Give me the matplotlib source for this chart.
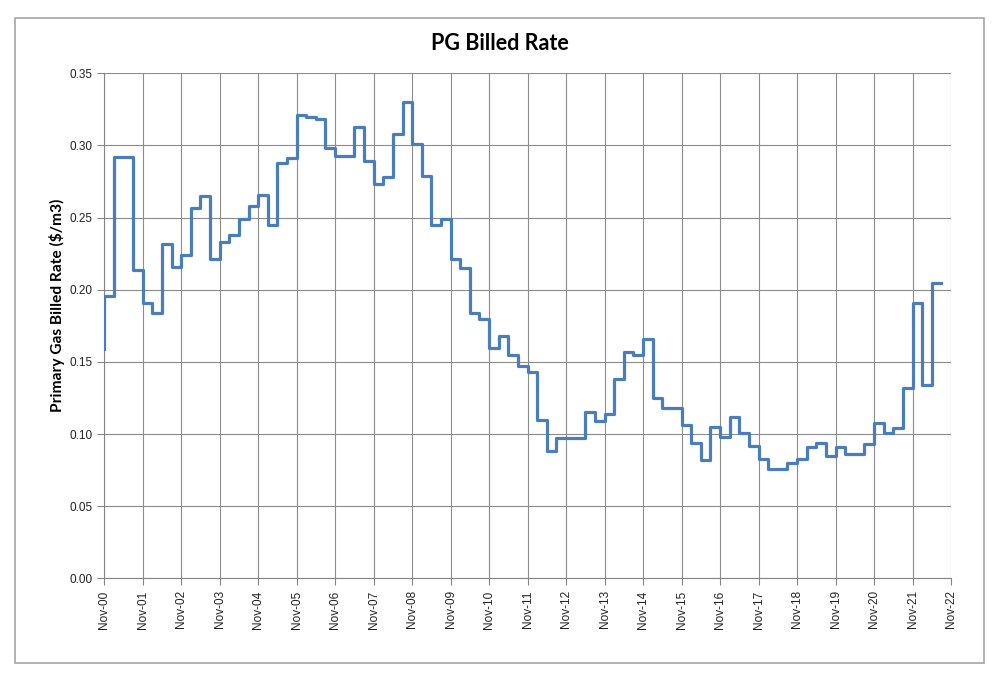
# PG billed rate - quarterly primary gas rate, drawn as a step line
import numpy as np
import pandas as pd
import matplotlib
matplotlib.use("Agg")
import matplotlib.pyplot as plt
import matplotlib.dates as mdates
from matplotlib.patches import Rectangle

# quarterly rate changes, starting Nov-2000
start_rate = 0.159
rates = [
    0.196, 0.292, 0.292, 0.214,  # Nov-00 .. Aug-01
    0.191, 0.184, 0.232, 0.216,
    0.224, 0.257, 0.265, 0.221,
    0.233, 0.238, 0.249, 0.258,
    0.266, 0.245, 0.288, 0.291,
    0.321, 0.320, 0.318, 0.298,
    0.293, 0.293, 0.313, 0.289,
    0.273, 0.278, 0.308, 0.330,
    0.301, 0.279, 0.245, 0.249,
    0.221, 0.215, 0.184, 0.180,
    0.160, 0.168, 0.155, 0.147,
    0.143, 0.110, 0.088, 0.097,
    0.097, 0.097, 0.115, 0.109,
    0.114, 0.138, 0.157, 0.155,
    0.166, 0.125, 0.118, 0.118,
    0.106, 0.094, 0.082, 0.105,
    0.098, 0.112, 0.101, 0.092,
    0.083, 0.076, 0.076, 0.080,
    0.083, 0.091, 0.094, 0.085,
    0.091, 0.086, 0.086, 0.093,
    0.108, 0.101, 0.104, 0.132,
    0.191, 0.134, 0.205,  # Nov-21 .. May-22
]
dates = pd.date_range("2000-11-01", periods=len(rates) + 1, freq="3MS")

# step line: initial rate, then each quarter, held to the end date
x = [dates[0]] + list(dates)
y = [start_rate] + rates + [rates[-1]]

fig = plt.figure(figsize=(10, 6.85), dpi=100)
ax = fig.add_axes([0.1043, 0.1555, 0.8467, 0.7375])

ax.step(x, y, where="post", color="#4A7EBB", linewidth=2.3, zorder=3)

ax.set_xlim(pd.Timestamp("2000-11-01"), pd.Timestamp("2022-11-01"))
ax.set_ylim(0, 0.35)
ax.set_yticks(np.arange(0, 0.351, 0.05))
ax.yaxis.set_major_formatter(matplotlib.ticker.FormatStrFormatter("%.2f"))
ax.xaxis.set_major_locator(mdates.MonthLocator(bymonth=11))
ax.xaxis.set_major_formatter(mdates.DateFormatter("%b-%y"))

ax.grid(True, color="#8C8C8C", linewidth=0.8)
ax.set_axisbelow(True)
for side in ["top", "right"]:
    ax.spines[side].set_visible(False)
for side in ["left", "bottom"]:
    ax.spines[side].set_color("#868686")
    ax.spines[side].set_linewidth(0.8)
ax.tick_params(axis="both", color="#868686", length=5, width=0.8,
               labelsize=8.5, labelcolor="#222222")
ax.tick_params(axis="x", rotation=90)
for lbl in ax.get_xticklabels() + ax.get_yticklabels():
    lbl.set_family("Liberation Sans")

# title is centred on the whole chart frame, not on the plot area
fig.text(0.4995, 1 - 44 / 685, "PG Billed Rate", fontsize=15.5,
         fontweight="bold", family="Lato", ha="center", va="center")
fig.text(0.057, 1 - 305 / 685, "Primary Gas Billed Rate ($/m3)",
         fontsize=11.2, fontweight="bold", family="Lato",
         rotation=90, ha="center", va="center")

# chart border like the spreadsheet frame
fig.patches.append(Rectangle((0.015, 22 / 685), 0.969, 645 / 685,
                             transform=fig.transFigure, fill=False,
                             edgecolor="#A6A6A6", linewidth=1.2))

fig.savefig("out.png", dpi=100)
